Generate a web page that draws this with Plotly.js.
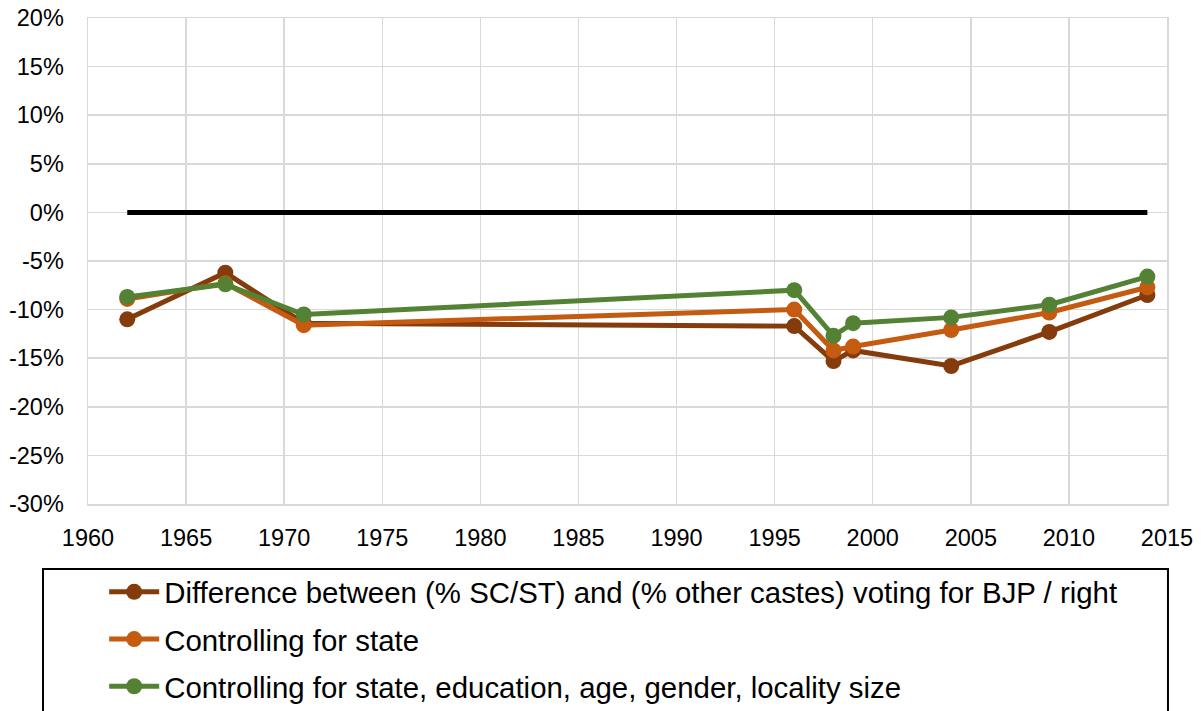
<!DOCTYPE html>
<html><head><meta charset="utf-8">
<script src="https://cdn.plot.ly/plotly-3.0.1.min.js"></script>
<style>body{margin:0;background:#fff}#chart{width:1201px;height:711px}</style>
</head><body><div id="chart"></div>
<script>
const years = [1962, 1967, 1971, 1996, 1998, 1999, 2004, 2009, 2014];
const diffRaw = [-0.110, -0.062, -0.114, -0.117, -0.153, -0.142, -0.158, -0.123, -0.085];
const ctrlState = [-0.089, -0.073, -0.116, -0.100, -0.142, -0.138, -0.121, -0.103, -0.077];
const ctrlAll = [-0.087, -0.074, -0.105, -0.080, -0.127, -0.114, -0.108, -0.095, -0.066];
const zeroX = [1962, 2014];
const zeroY = [0, 0];
const yTickVals = [-0.3, -0.25, -0.2, -0.15, -0.1, -0.05, 0, 0.05, 0.1, 0.15, 0.2];
const yTickText = ['-30%', '-25%', '-20%', '-15%', '-10%', '-5%', '0%', '5%', '10%', '15%', '20%'];
const names = [
  "Difference between (% SC/ST) and (% other castes) voting for BJP / right",
  "Controlling for state",
  "Controlling for state, education, age, gender, locality size"
];
const colors = ["#843C0C", "#C55A11", "#548235"];
const series = [diffRaw, ctrlState, ctrlAll];

const traces = [{
  x: zeroX, y: zeroY, mode: 'lines', line: {color: '#000', width: 5},
  showlegend: false, hoverinfo: 'skip'
}];
series.forEach((s, i) => traces.push({
  x: years, y: s, name: names[i], mode: 'lines+markers', legendgroup: 'g' + i,
  line: {color: colors[i], width: 5}, marker: {color: colors[i], size: 16}
}));

const layout = {
  width: 1201, height: 711,
  margin: {l: 88, r: 34, t: 18, b: 207, autoexpand: false},
  paper_bgcolor: '#fff', plot_bgcolor: '#fff',
  font: {family: 'Liberation Sans, Arial, sans-serif', color: '#000'},
  xaxis: {range: [1960, 2015], dtick: 5, tick0: 1960, showgrid: true, gridcolor: '#d9d9d9', gridwidth: 1.5,
    zeroline: false, showline: true, linecolor: '#d9d9d9', linewidth: 1.5, mirror: true,
    tickfont: {size: 23.5}, ticks: '', ticklabelstandoff: 12},
  yaxis: {range: [-0.3, 0.2], tickmode: 'array', tickvals: yTickVals, ticktext: yTickText,
    showgrid: true, gridcolor: '#d9d9d9', gridwidth: 1.5,
    zeroline: false, showline: true, linecolor: '#d9d9d9', linewidth: 1.5, mirror: true,
    tickfont: {size: 23.5}, ticks: '', ticklabelstandoff: 18},
  showlegend: true,
  legend: {x: 0.015, xanchor: 'left', y: -0.128, yanchor: 'top', font: {size: 29.4},
    bgcolor: 'rgba(0,0,0,0)', borderwidth: 0, traceorder: 'grouped', tracegroupgap: 6, itemwidth: 50},
  shapes: [{type: 'rect', xref: 'paper', yref: 'paper', x0: -0.0417, x1: 1.0009, y0: -0.1337, y1: -0.6,
    line: {color: '#000', width: 2}, fillcolor: 'rgba(0,0,0,0)'}]
};
Plotly.newPlot('chart', traces, layout, {displayModeBar: false, staticPlot: true});
</script></body></html>
